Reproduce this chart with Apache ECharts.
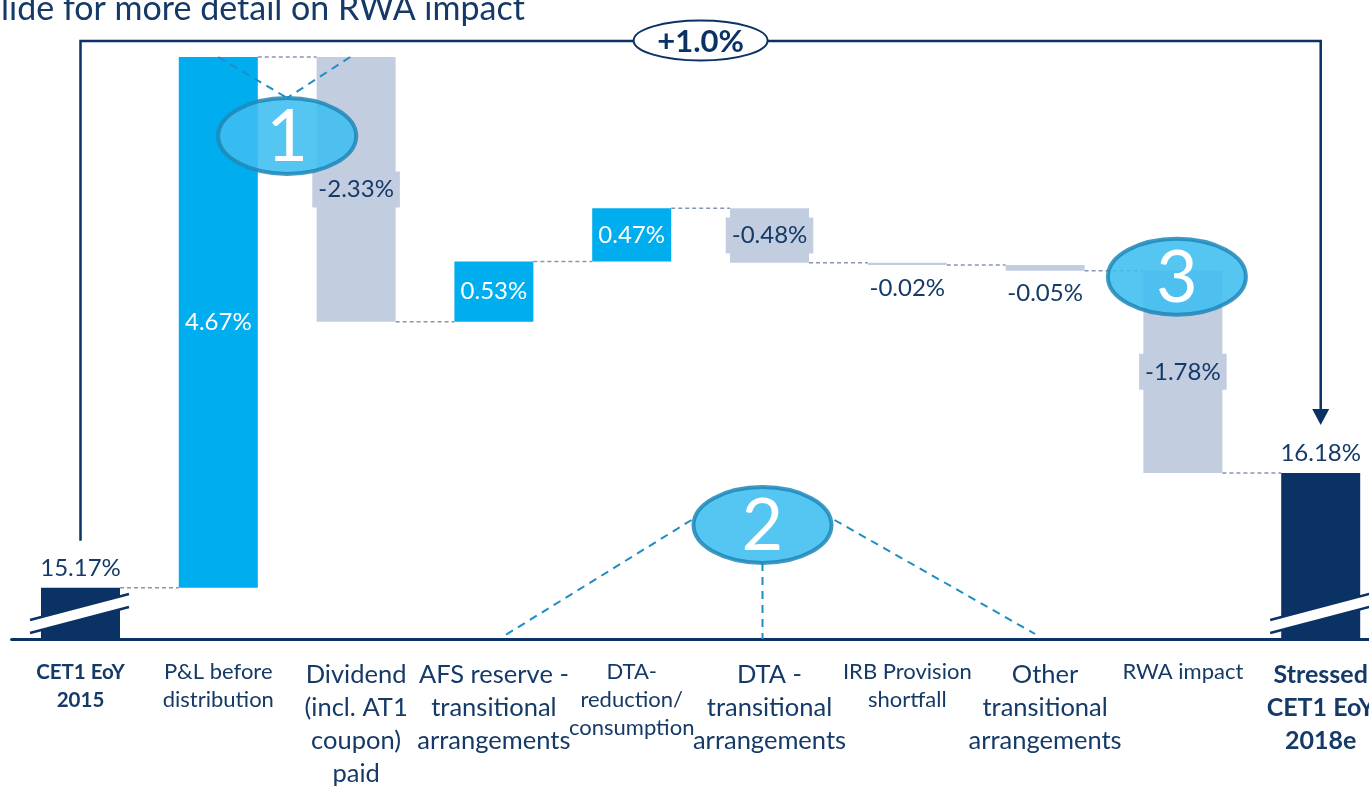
<!DOCTYPE html>
<html>
<head>
<meta charset="utf-8">
<script src="https://cdn.jsdelivr.net/npm/echarts@6/dist/echarts.min.js"></script>
<style>
  html, body { margin: 0; padding: 0; background: #fff; }
  #chart { width: 1369px; height: 786px; }
</style>
</head>
<body>
<div id="chart"></div>
<script>
// --- data ---
const categoryLines = [
  ['CET1 EoY', '2015'],
  ['P&L before', 'distribution'],
  ['Dividend', '(incl. AT1', 'coupon)', 'paid'],
  ['AFS reserve -', 'transitional', 'arrangements'],
  ['DTA-', 'reduction/', 'consumption'],
  ['DTA -', 'transitional', 'arrangements'],
  ['IRB Provision', 'shortfall'],
  ['Other', 'transitional', 'arrangements'],
  ['RWA impact'],
  ['Stressed', 'CET1 EoY', '2018e']
];
const startValue = 15.17;
const endValue = 16.18;
const deltas = [4.67, -2.33, 0.53, 0.47, -0.48, -0.02, -0.05, -1.78];
const valueLabels = ['15.17%', '4.67%', '-2.33%', '0.53%', '0.47%', '-0.48%', '-0.02%', '-0.05%', '-1.78%', '16.18%'];
const totalChange = '+1.0%';
const axisBreakAt = 14.72;   // value where the (broken) axis sits
const headline = 'lide for more detail on RWA impact';

const NAVY = '#0b3264';
const TEXT = '#153a67';
const CYAN = '#00adee';
const GREY = '#c3cde0';
const FONT = 'Lato';

// label style key per category (bold totals, smaller/larger captions as on the slide)
const labelKind = ['b', 's', 'l', 'l', 's', 'l', 's', 'l', 's', 'lb'];

// --- build the waterfall ---
const categories = categoryLines.map(l => l.join(' '));
const lows = [axisBreakAt];
const highs = [startValue];
const levels = [startValue];
let running = startValue;
deltas.forEach(d => {
  const next = +(running + d).toFixed(2);
  lows.push(Math.min(running, next));
  highs.push(Math.max(running, next));
  levels.push(next);
  running = next;
});
lows.push(axisBreakAt);
highs.push(endValue);

const barData = highs.map((h, i) => {
  const isTotal = i === 0 || i === highs.length - 1;
  const d = isTotal ? 0 : deltas[i - 1];
  let color = isTotal ? NAVY : (d >= 0 ? CYAN : GREY);
  let label;
  if (isTotal) {
    label = { position: 'top', distance: 8, color: TEXT };
  } else if (d >= 0) {
    label = { position: 'inside', color: '#ffffff' };
  } else if (Math.abs(d) < 0.1) {
    label = { position: 'bottom', distance: 11, color: TEXT };
  } else {
    label = { position: 'inside', color: TEXT, backgroundColor: GREY, padding: [6, 6] };
  }
  return { value: +(h - lows[i]).toFixed(2), itemStyle: { color }, label };
});

// connectors: from each bar's end level to the next bar
const connectors = levels.map((v, i) => [i, v]);

const chart = echarts.init(document.getElementById('chart'));

chart.setOption({
  animation: false,
  grid: { left: 11.6, right: -20.6, top: 57, bottom: 147, containLabel: false, outerBoundsMode: 'none' },
  xAxis: {
    type: 'category',
    data: categories,
    axisLine: { lineStyle: { color: NAVY, width: 3 } },
    axisTick: { show: false },
    axisLabel: {
      interval: 0,
      margin: 19,
      hideOverlap: false,
      formatter: (val, idx) => categoryLines[idx].map(t => '{' + labelKind[idx] + '|' + t + '}').join('\n'),
      rich: {
        b: { fontFamily: FONT, fontSize: 20.5, fontWeight: 'bold', color: TEXT, lineHeight: 28 },
        s: { fontFamily: FONT, fontSize: 22, color: TEXT, lineHeight: 28 },
        l: { fontFamily: FONT, fontSize: 25.5, color: TEXT, lineHeight: 33 },
        lb: { fontFamily: FONT, fontSize: 25, fontWeight: 'bold', color: TEXT, lineHeight: 33 }
      }
    }
  },
  yAxis: {
    type: 'value',
    min: axisBreakAt,
    max: 19.84,
    show: false,
    splitLine: { show: false }
  },
  series: [
    {
      name: 'base',
      type: 'bar',
      stack: 'w',
      barWidth: 79,
      silent: true,
      itemStyle: { color: 'rgba(0,0,0,0)' },
      data: lows
    },
    {
      name: 'change',
      type: 'bar',
      stack: 'w',
      barWidth: 79,
      label: {
        show: true,
        fontFamily: FONT,
        fontSize: 24,
        lineHeight: 24,
        formatter: p => valueLabels[p.dataIndex]
      },
      data: barData
    },
    {
      name: 'connectors',
      type: 'custom',
      silent: true,
      z: 1,
      renderItem: (params, api) => {
        const i = api.value(0);
        const v = api.value(1);
        const a = api.coord([i, v]);
        const b = api.coord([i + 1, v]);
        const half = 39.5;
        return {
          type: 'line',
          shape: { x1: a[0] + half, y1: a[1], x2: b[0] - half, y2: b[1] },
          style: { stroke: '#8796ad', lineWidth: 1.5, lineDash: [4, 3] }
        };
      },
      data: connectors
    }
  ]
});

// --- annotations anchored on the chart's own scale ---
const px = (i, v) => chart.convertToPixel({ gridIndex: 0 }, [i, v]);
const axisY = px(0, axisBreakAt)[1];
const last = categories.length - 1;
const lx = px(0, startValue)[0];
const rx = px(last, endValue)[0];
const topY = 41;
const leftBottom = px(0, startValue)[1] - 47;
const arrowTip = px(last, endValue)[1] - 48;

const g = [];
// headline cut off at the top of the slide
g.push({ type: 'text', x: 1, y: 9, style: { text: headline, font: 'normal 34px ' + FONT, fill: TEXT, align: 'left', verticalAlign: 'middle' } });

// bracket with arrow
g.push({ type: 'polyline', shape: { points: [[lx, leftBottom], [lx, topY], [rx, topY], [rx, arrowTip - 14]] }, style: { stroke: NAVY, lineWidth: 2.5, fill: null } });
g.push({ type: 'polygon', shape: { points: [[rx - 8.5, arrowTip - 16], [rx + 8.5, arrowTip - 16], [rx, arrowTip]] }, style: { fill: NAVY } });
const mid = (lx + rx) / 2;
g.push({ type: 'ellipse', shape: { cx: mid, cy: topY - 0.5, rx: 67, ry: 20 }, style: { fill: '#ffffff', stroke: NAVY, lineWidth: 2 } });
g.push({ type: 'text', x: mid, y: topY + 1, style: { text: totalChange, font: 'bold 31px ' + FONT, fill: NAVY, align: 'center', verticalAlign: 'middle' } });

// axis break marks on both total bars
[0, last].forEach(i => {
  const c = px(i, axisBreakAt)[0];
  const x0 = c - 50.5, x1 = c + 48.5;
  g.push({ type: 'polygon', shape: { points: [[x0, axisY - 19], [x1, axisY - 45], [x1, axisY - 32], [x0, axisY - 6]] }, style: { fill: '#ffffff' } });
  g.push({ type: 'line', shape: { x1: x0, y1: axisY - 19, x2: x1, y2: axisY - 45 }, style: { stroke: NAVY, lineWidth: 2.5 } });
  g.push({ type: 'line', shape: { x1: x0, y1: axisY - 6, x2: x1, y2: axisY - 32 }, style: { stroke: NAVY, lineWidth: 2.5 } });
});

// numbered call-outs
const dash = { stroke: '#1f8cc4', lineWidth: 2, lineDash: [8, 6] };
function callout(cx, cy, num) {
  g.push({ type: 'ellipse', shape: { cx, cy, rx: 69, ry: 38 }, style: { fill: 'rgba(62,190,240,0.88)', stroke: 'rgba(30,135,185,0.85)', lineWidth: 4 } });
  g.push({ type: 'text', x: cx, y: cy + 2, style: { text: num, font: 'normal 72px ' + FONT, fill: '#ffffff', align: 'center', verticalAlign: 'middle' } });
}
const c1 = (px(1, 0)[0] + px(2, 0)[0]) / 2;
const topLvl = px(1, highs[1])[1];
g.push({ type: 'line', shape: { x1: c1 - 69, y1: topLvl, x2: c1, y2: topLvl + 41 }, style: dash });
g.push({ type: 'line', shape: { x1: c1 + 63, y1: topLvl, x2: c1, y2: topLvl + 41 }, style: dash });
callout(c1, 136, '1');

const c2 = px(5, 0)[0] - 7;
g.push({ type: 'line', shape: { x1: c2 - 71, y1: 520, x2: px(3, 0)[0] + 10, y2: axisY - 3 }, style: dash });
g.push({ type: 'line', shape: { x1: c2, y1: 563, x2: c2, y2: axisY }, style: dash });
g.push({ type: 'line', shape: { x1: c2 + 72, y1: 520, x2: px(7, 0)[0] - 10, y2: axisY - 5 }, style: dash });
callout(c2, 525, '2');

callout(px(8, 0)[0] - 6, px(8, highs[8])[1] + 6, '3');

chart.setOption({ graphic: { elements: g.map(e => Object.assign({ silent: true, z: 100 }, e)) } });
</script>
</body>
</html>
